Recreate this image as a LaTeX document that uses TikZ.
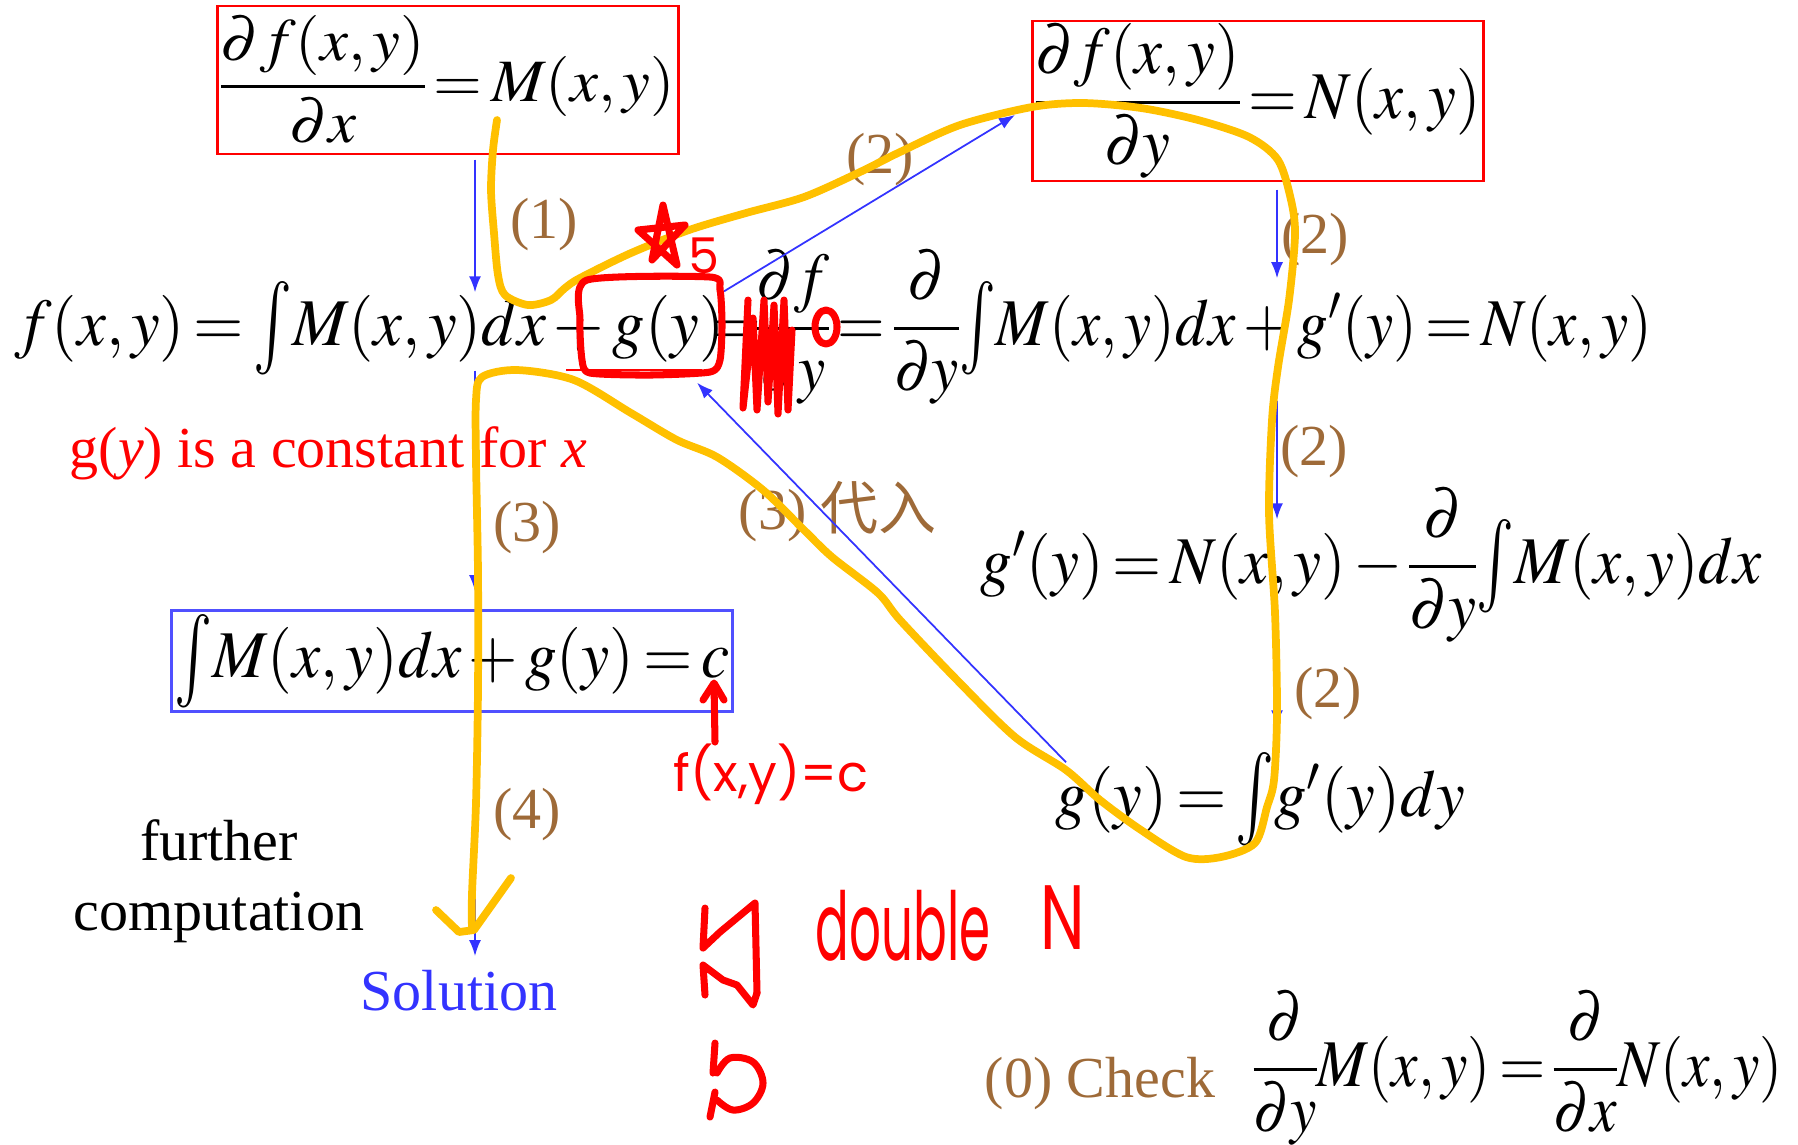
\documentclass[tikz,border=0pt]{standalone}
\usepackage{amsmath}
\usepackage{graphicx}
\usepackage{mathptmx}
\usepackage[no-math]{fontspec}
\setmainfont{Liberation Serif}
\newfontfamily\cjk{Noto Sans CJK SC}
\newfontfamily\handfont{Poppins}
\usetikzlibrary{arrows.meta,calc,positioning}
\definecolor{slblue}{RGB}{51,51,255}
\definecolor{boxblue}{RGB}{80,80,255}
\definecolor{slbrown}{RGB}{158,106,56}
\definecolor{penred}{RGB}{255,0,0}
\definecolor{penyellow}{RGB}{255,192,0}
\thickmuskip=2.5mu
\medmuskip=2mu
\nulldelimiterspace=0pt
\newcommand{\Int}{\mathord{\vcenter{\hbox{\scalebox{1}[1.4]{$\int$}}}}}
\newcommand{\hsq}[2]{\scalebox{#1}[1]{$#2$}}

\begin{document}
\begin{tikzpicture}[
  x=0.01cm, y=-0.01cm,
  eq/.style={inner sep=0pt, font=\fontsize{19}{23}\selectfont},
  txt/.style={inner sep=0pt, font=\fontsize{16.5}{19.8}\selectfont},
  stp/.style={txt, text=slbrown},
  boxed/.style={draw, line width=0.8pt},
  arr/.style={-{Latex[length=1.6mm,width=1.2mm]}, slblue, line width=0.5pt},
  pen/.style={line width=2pt, line cap=round, line join=round},
  hand/.style={inner sep=0pt, text=penred, font=\handfont\fontsize{20}{24}\selectfont}
]
  \useasboundingbox (0,0) rectangle (1798,1144);

  % boxed equations
  \node[eq, boxed, draw=red, minimum width=4.6cm, minimum height=1.48cm] (dfdx) at (448,80)
    {\scalebox{0.94}[0.9]{$\dfrac{\partial f(x,y)}{\partial x}=M(x,y)$}};
  \node[eq, boxed, draw=red, minimum width=4.51cm, minimum height=1.6cm] (dfdy) at (1258,101)
    {\hsq{0.94}{\dfrac{\partial f(x,y)}{\partial y}=N(x,y)}};
  \node[eq, boxed, draw=boxblue, minimum width=5.6cm, minimum height=1.01cm] (ibox) at (452,661)
    {\hsq{0.95}{\Int M(x,y)dx+g(y)=c}};

  % main line
  \node[eq, anchor=base west, text height=0.52cm, text depth=0.25cm] (mainL) at (14,345)
    {\hsq{0.97}{f(x,y)=\Int M(x,y)dx+{}}};
  \node[eq, anchor=base west, text height=0.52cm, text depth=0.25cm] (gy0) at (mainL.base east)
    {\hsq{0.97}{g(y)}};
  \node[eq, anchor=base west, text height=0.52cm, text depth=0.25cm] (mainR) at (gy0.base east)
    {\hsq{0.917}{{}\mkern-6mu=\mkern-4mu\dfrac{\partial f}{\partial y}=\dfrac{\partial}{\partial y}\Int M(x,y)dx+g'(y)=N(x,y)}};

  % right column
  \node[eq, anchor=base west, text height=0.63cm, text depth=0.44cm] (gp) at (980,583)
    {\hsq{0.945}{g'(y)=N(x,y)-\dfrac{\partial}{\partial y}\Int M(x,y)dx}};
  \node[eq, anchor=base west, text height=0.89cm, text depth=0.2cm] (gint) at (1055,816)
    {\hsq{0.97}{g(y)=\Int g'(y)dy}};

  % texts
  \node[txt, text=penred, anchor=base west] (const) at (69,467) {g(\textit{y}) is a constant for \textit{x}};
  \node[txt, align=center, anchor=base] (further) at (219,930) {further\\computation};
  \node[txt, text=slblue, anchor=base] (sol) at (459,1010) {Solution};
  \node[stp, anchor=base west] (check) at (984,1097) {(0) Check};
  \node[eq, anchor=base west] (cheq) at (1253,1086)
    {\hsq{0.89}{\dfrac{\partial}{\partial y}M(x,y)=\dfrac{\partial}{\partial x}N(x,y)}};

  % step labels
  \node[stp] (l1) at (544,225) {(1)};
  \node[stp] (l2a) at (880,160) {(2)};
  \node[stp] (l2b) at (1315,240) {(2)};
  \node[stp] (l2c) at (1314,452) {(2)};
  \node[stp] (l2d) at (1328,694) {(2)};
  \node[stp] (l3) at (527,528) {(3)};
  \node[stp, anchor=west] (l3b) at (738,512) {(3) {\cjk 代入}};
  \node[stp] (l4) at (527,815) {(4)};

  % arrows
  \coordinate (colL) at (475,0);
  \coordinate (colR) at (1277,0);
  \draw[arr, shorten <=1.2pt] (dfdx.south -| colL) -- (mainL.north -| colL);
  \draw[arr, shorten >=5.1pt] (mainL.south -| colL) -- (ibox.north -| colL);
  \draw[arr, shorten <=1.7pt, shorten >=3.7pt] (ibox.south -| colL) -- (sol.north -| colL);
  \draw[arr, shorten <=2pt, shorten >=4pt] (dfdy.south -| colR) -- (mainR.north -| colR);
  \draw[arr, shorten <=8.5pt] (mainR.south -| colR) -- (gp.north -| colR);
  \draw[arr] (gp.south -| colR) -- (gint.north -| colR);
  \draw[arr] ([shift={(-1,-1)}]gy0.north east) -- ([shift={(-16,14)}]dfdy.west);
  \draw[arr] ([shift={(11,36)}]gint.north west) -- ([shift={(-28,12)}]gy0.south east);

  % pen: yellow stroke
  \draw[pen, penyellow, line width=2.2pt] plot[smooth, tension=0.5] coordinates {
    (497,120) (493,150) (491,190) (494,233) (498,275) (505,295) (528,305) (551,300)
    (565,288) (580,278) (631,253) (689,230) (746,213) (804,197) (860,172) (900,152)
    (960,125) (1032,107) (1083,103) (1141,108) (1198,120) (1249,137) (1278,160)
    (1291,200) (1295,235) (1289,300) (1278,367) (1272,420) (1269,513) (1275,613)
    (1277,713) (1274,780) (1267,807) (1255,843) (1221,857) (1186,857) (1141,830)
    (1100,800) (1066,770) (1015,737) (957,680) (900,620) (878,593) (832,557)
    (804,530) (763,490) (717,457) (677,440) (631,413) (574,380) (517,370)
    (482,377) (476,400) (476,460) (478,573) (478,688) (476,803) (472,894) (472,930)};
  \draw[pen, penyellow, line width=2.2pt] (436,910) -- (459,932) -- (474,930) -- (511,878);

  % pen: red marks
  \draw[penred, line width=0.8pt] (566,370) -- (702,370);
  \draw[pen, penred] plot[smooth cycle, tension=0.4] coordinates {
    (587,280) (710,277) (720,290) (722,325) (720,360) (710,372) (650,375) (590,373) (582,360) (580,320)};
  \draw[pen, penred] (652,260) -- (663,205) -- (677,265) -- (638,230) -- (685,225) -- cycle;
  \node[hand, font=\handfont\fontsize{14}{16}\selectfont] (five) at (704,256) {5};
  \draw[pen, penred] (748,300) -- (743,408) -- (753,318) -- (757,410) -- (764,300)
    -- (768,402) -- (774,305) -- (778,414) -- (784,300) -- (788,410) -- (792,330);
  \draw[pen, penred] (826,327) ellipse [x radius=11, y radius=17];
  \draw[pen, penred] (715,742) -- (714,684);
  \draw[pen, penred] (703,700) -- (714,683) -- (724,700);
  \node[hand, font=\handfont\fontsize{14.5}{17}\selectfont] (fc) at (771,774) {f(x,y)=c};
  \draw[pen, penred] (705,908) -- (703,948) -- (720,932) -- (755,903) -- (757,993);
  \draw[pen, penred] (705,995) -- (703,965) -- (723,980) -- (737,985) -- (753,1005) -- (757,993);
  \node[hand, anchor=base west] (dbl) at (815,960)
    {\scalebox{0.71}[1.35]{double}\hspace{0.5cm}\raisebox{3pt}{\scalebox{0.9}[1.3]{N}}};
  \draw[pen, penred] (715,1043) -- (713,1073);
  \draw[pen, penred] plot[smooth, tension=0.6] coordinates {
    (717,1073) (730,1058) (753,1062) (763,1083) (753,1103) (733,1110) (717,1100)};
  \draw[pen, penred] (715,1092) -- (710,1117);
\end{tikzpicture}
\end{document}
